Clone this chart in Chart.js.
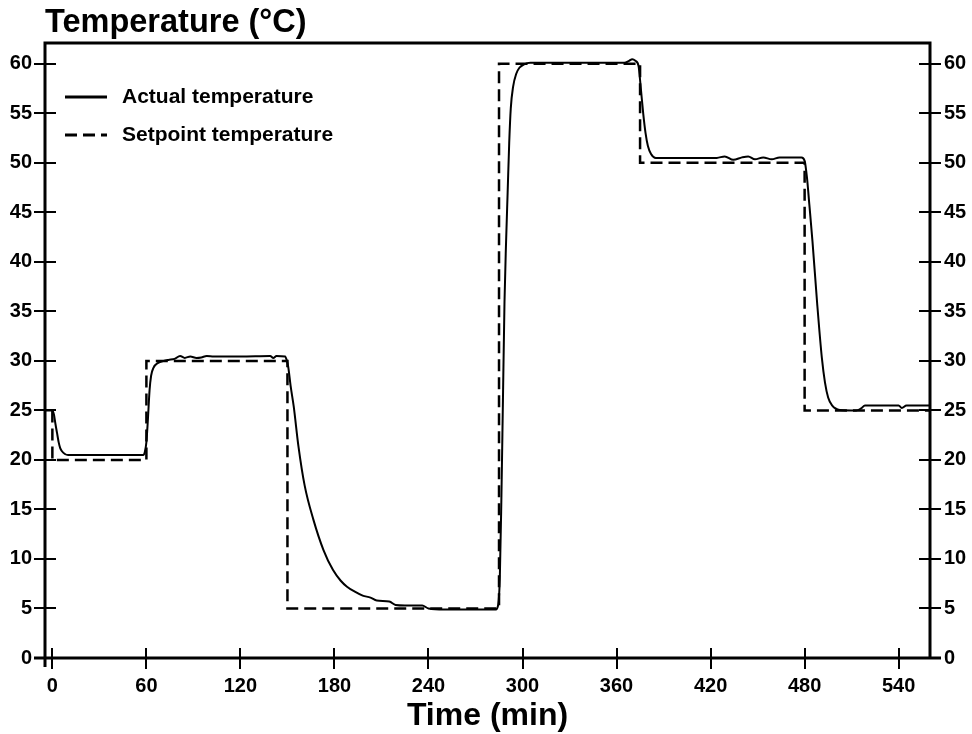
<!DOCTYPE html>
<html>
<head>
<meta charset="utf-8">
<script src="https://cdn.jsdelivr.net/npm/chart.js@4/dist/chart.umd.min.js"></script>
<style>
  body { margin: 0; background: #fff; }
  canvas { display: block; }
</style>
</head>
<body>
<canvas id="t_stage" width="972" height="734"></canvas>
<script>
// setpoint steps (value holds until next time)
const spTime = [0, 0, 60, 150, 285, 375, 480, 560];
const spTemp = [25, 20, 30, 5, 60, 50, 25, 25];

const actTime = [-4.7, 0, 1, 2, 3, 4, 5, 6, 8, 10, 20, 40, 58, 59, 60, 61, 62, 63, 64.5, 67.5, 71, 74, 78, 81.5, 84.5, 88, 92, 95, 98.5, 103, 120, 139, 141, 143, 148.5,
  149.5, 150.5, 152, 154, 157, 161, 166.5, 173, 179, 184, 188, 193, 198, 203, 207, 215, 219, 225, 236, 240, 250, 270, 283,
  284.5, 285.5, 286.5, 287.5, 288.5, 289.5, 290.5, 291.5, 292.5, 294, 296, 298, 301, 305, 330, 365, 368, 370, 372,
  374, 375.5, 377, 378.5, 380, 382, 385, 400, 420, 424, 429, 434.5, 440, 444, 448.3, 453.6, 459, 464, 478,
  480, 481.5, 483, 485, 488, 491, 493, 495, 497.5, 502.5, 513, 516, 518.5, 540, 542, 545, 560];
const actTemp = [25.0, 25.0, 24.6, 23.6, 22.7, 21.8, 21.2, 20.9, 20.6, 20.5, 20.5, 20.5, 20.5, 20.8, 21.8, 24.2, 27.0, 28.5, 29.3, 29.8, 30.0, 30.1, 30.2, 30.5, 30.3, 30.45, 30.3, 30.35, 30.5, 30.45, 30.45, 30.5, 30.3, 30.5, 30.45,
  30.1, 29.4, 27.5, 25.4, 21.4, 17.4, 14.0, 10.9, 8.9, 7.8, 7.2, 6.7, 6.3, 6.1, 5.8, 5.7, 5.35, 5.3, 5.3, 5.0, 4.9, 4.9, 4.9,
  5.4, 8, 16, 26, 36, 42, 47, 52, 55.5, 57.7, 59, 59.6, 59.95, 60.1, 60.1, 60.1, 60.3, 60.45, 60.3,
  59.8, 57.5, 55, 53, 51.7, 50.9, 50.5, 50.5, 50.5, 50.5, 50.65, 50.3, 50.55, 50.65, 50.35, 50.55, 50.35, 50.55, 50.55,
  50.2, 48.5, 45.8, 42.1, 35.8, 30.3, 27.8, 26.3, 25.5, 25.05, 25.0, 25.2, 25.5, 25.5, 25.25, 25.5, 25.5];

const timeTicks = [0, 60, 120, 180, 240, 300, 360, 420, 480, 540];
const tempTicks = [0, 5, 10, 15, 20, 25, 30, 35, 40, 45, 50, 55, 60];

Chart.defaults.font.family = 'Arial, "Liberation Sans", sans-serif';
Chart.defaults.color = '#000';

// box, crossing tick marks
const t_axes = {
  id: 't_axes',
  afterDraw(chart) {
    const ctx = chart.ctx;
    const a = chart.chartArea;
    const x = chart.scales.x;
    const y = chart.scales.y;
    ctx.save();
    ctx.strokeStyle = '#000';
    ctx.lineWidth = 3;
    ctx.lineJoin = 'miter';
    ctx.beginPath();
    ctx.moveTo(a.left, a.bottom + 9);
    ctx.lineTo(a.left, a.top);
    ctx.lineTo(a.right, a.top);
    ctx.lineTo(a.right, a.bottom);
    ctx.stroke();
    ctx.beginPath();
    ctx.moveTo(a.left - 11, a.bottom);
    ctx.lineTo(a.right + 11, a.bottom);
    ctx.stroke();
    ctx.lineWidth = 2;
    ctx.beginPath();
    tempTicks.forEach(v => {
      const py = Math.round(y.getPixelForValue(v));
      if (v === 0) return;
      ctx.moveTo(a.left - 11, py); ctx.lineTo(a.left + 11, py);
      ctx.moveTo(a.right - 11, py); ctx.lineTo(a.right + 11, py);
    });
    timeTicks.forEach(v => {
      const px = Math.round(x.getPixelForValue(v));
      ctx.moveTo(px, a.bottom - 10); ctx.lineTo(px, a.bottom + 11);
    });
    ctx.stroke();
    ctx.restore();
  }
};

const t_legend = {
  id: 't_legend',
  afterDatasetsDraw(chart) {
    const ctx = chart.ctx;
    const a = chart.chartArea;
    chart.data.datasets.forEach((ds, i) => {
      const ly = a.top + 54 + i * 38;
      ctx.save();
      ctx.strokeStyle = '#000';
      ctx.lineWidth = 3;
      ctx.setLineDash(ds.borderDash || []);
      ctx.beginPath();
      ctx.moveTo(a.left + 20, ly);
      ctx.lineTo(a.left + 62, ly);
      ctx.stroke();
      ctx.setLineDash([]);
      ctx.fillStyle = '#000';
      ctx.font = 'bold 21px Arial, "Liberation Sans", sans-serif';
      ctx.textBaseline = 'middle';
      ctx.fillText(ds.label, a.left + 77, ly);
      ctx.restore();
    });
  }
};

const tickFont = { size: 20, weight: 'bold' };

new Chart(document.getElementById('t_stage'), {
  type: 'line',
  data: {
    datasets: [
      {
        label: 'Actual temperature',
        data: actTime.map((t, i) => ({ x: t, y: actTemp[i] })),
        borderColor: '#000',
        borderWidth: 2,
        pointRadius: 0,
        cubicInterpolationMode: 'monotone',
        fill: false
      },
      {
        label: 'Setpoint temperature',
        data: spTime.map((t, i) => ({ x: t, y: spTemp[i] })),
        borderColor: '#000',
        borderWidth: 2.5,
        borderDash: [12, 6],
        pointRadius: 0,
        stepped: 'before',
        fill: false
      }
    ]
  },
  options: {
    responsive: false,
    animation: false,
    devicePixelRatio: 1,
    layout: { padding: 0 },
    plugins: {
      legend: { display: false },
      tooltip: { enabled: false },
      title: {
        display: true,
        text: 'Temperature (°C)',
        align: 'start',
        fullSize: false,
        color: '#000',
        font: { size: 32.5, weight: 'bold', lineHeight: 1.2 },
        padding: { top: 4, bottom: 0 }
      }
    },
    scales: {
      x: {
        type: 'linear',
        min: -4.7,
        max: 560,
        grid: { display: false, drawTicks: false },
        border: { display: false },
        afterBuildTicks: (axis) => { axis.ticks = timeTicks.map(v => ({ value: v })); },
        afterFit: (scale) => { scale.height = 76; },
        ticks: { font: tickFont, padding: 16, maxRotation: 0, autoSkip: false },
        title: {
          display: true,
          text: 'Time (min)',
          color: '#000',
          font: { size: 32, weight: 'bold', lineHeight: 1.1 },
          padding: { top: 0, bottom: 0 }
        }
      },
      y: {
        position: 'left',
        min: 0,
        max: 62.1,
        grid: { display: false, drawTicks: false },
        border: { display: false },
        afterBuildTicks: (axis) => { axis.ticks = tempTicks.map(v => ({ value: v })); },
        afterFit: (scale) => { scale.width = 45; },
        ticks: { font: tickFont, padding: 13, autoSkip: false }
      },
      y2: {
        position: 'right',
        min: 0,
        max: 62.1,
        grid: { display: false, drawTicks: false },
        border: { display: false },
        afterBuildTicks: (axis) => { axis.ticks = tempTicks.map(v => ({ value: v })); },
        afterFit: (scale) => { scale.width = 42; },
        ticks: { font: tickFont, padding: 14, autoSkip: false }
      }
    }
  },
  plugins: [t_axes, t_legend]
});
</script>
</body>
</html>
